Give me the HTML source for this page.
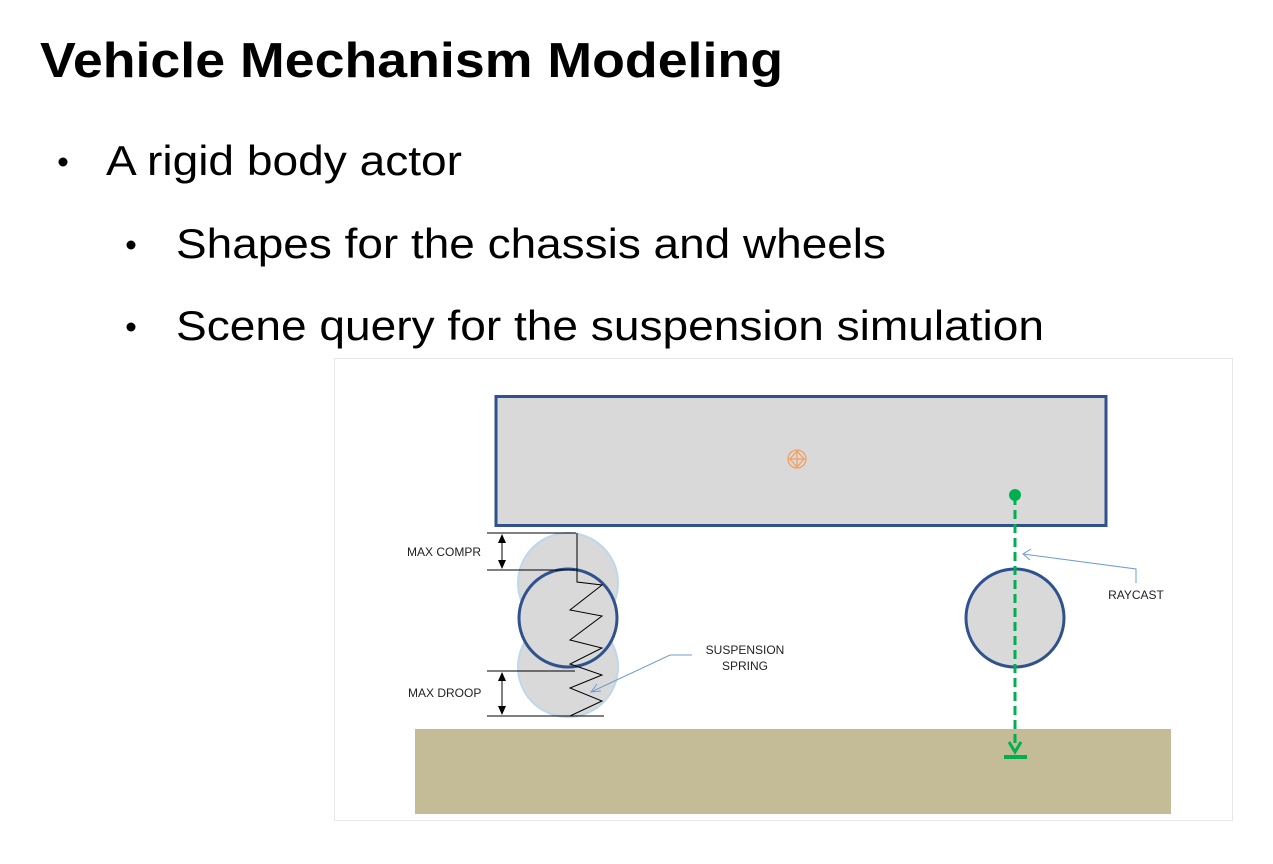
<!DOCTYPE html>
<html><head><meta charset="utf-8"><style>
html,body{margin:0;padding:0;background:#fff;}
svg{display:block;}
</style></head><body>
<svg width="1273" height="864" viewBox="0 0 1273 864" xmlns="http://www.w3.org/2000/svg" font-family="Liberation Sans, Arial, sans-serif">
<text x="40" y="77" font-size="49" font-weight="bold" textLength="743" lengthAdjust="spacingAndGlyphs">Vehicle Mechanism Modeling</text>
<circle cx="63" cy="162" r="4.5" fill="#000"/>
<text x="106" y="175" font-size="42" textLength="356" lengthAdjust="spacingAndGlyphs">A rigid body actor</text>
<circle cx="131" cy="245" r="4.5" fill="#000"/>
<text x="176" y="258" font-size="42" textLength="710" lengthAdjust="spacingAndGlyphs">Shapes for the chassis and wheels</text>
<circle cx="131" cy="327" r="4.5" fill="#000"/>
<text x="176" y="340" font-size="42" textLength="868" lengthAdjust="spacingAndGlyphs">Scene query for the suspension simulation</text>

<rect x="334.5" y="358.5" width="898" height="462" fill="#fff" stroke="#e6e6e6"/>
<rect x="415" y="729" width="756" height="85" fill="#c4bc97"/>
<rect x="496" y="396.5" width="610" height="129" fill="#d9d9d9" stroke="#2f528f" stroke-width="3"/>
<g fill="none" stroke="#f4a060" stroke-width="1.3">
<circle cx="797" cy="459" r="9"/><path d="M788,459 H806 M797,450 V468 M797,451 L790,459 L797,467 L804,459 Z"/>
</g>
<!-- left wheel -->
<circle cx="568" cy="583" r="50" fill="#d9d9d9" stroke="#bdd7ee" stroke-width="2"/>
<circle cx="568" cy="667" r="50" fill="#d9d9d9" stroke="#bdd7ee" stroke-width="2"/>
<circle cx="568" cy="618" r="49" fill="#d9d9d9" stroke="#2f528f" stroke-width="3"/>
<g stroke="#000" stroke-width="1" fill="none">
<path d="M487,533 H576 M487,570 H575 M487,671 H575 M487,716 H604"/>
<path d="M577,533 V582 L602,585 L570,610 L602,616 L570,640 L602,648 L570,664 L602,675 L570,688 L602,701 L570,716"/>
<line x1="502" y1="540" x2="502" y2="563"/>
<line x1="502" y1="678" x2="502" y2="709"/>
</g>
<path d="M502,534 L498,543 L506,543 Z M502,569 L498,560 L506,560 Z M502,672 L498,681 L506,681 Z M502,715 L498,706 L506,706 Z" fill="#000"/>
<text x="407" y="556" font-size="12" fill="#222">MAX COMPR</text>
<text x="408" y="697" font-size="12" fill="#222">MAX DROOP</text>
<text x="745" y="654" font-size="12" fill="#222" text-anchor="middle">SUSPENSION</text>
<text x="745" y="670" font-size="12" fill="#222" text-anchor="middle">SPRING</text>
<g stroke="#6f9bd0" stroke-width="1" fill="none">
<path d="M692,655 H670 L591,692"/>
<path d="M597,684 L591,692 L601,691"/>
<path d="M1136,583 V569 L1023,554"/>
<path d="M1031,549 L1023,554 L1030,560"/>
</g>
<text x="1136" y="599" font-size="12" fill="#222" text-anchor="middle">RAYCAST</text>
<!-- right wheel -->
<circle cx="1015" cy="618" r="49" fill="#d9d9d9" stroke="#2f528f" stroke-width="3"/>
<line x1="1015" y1="496" x2="1015" y2="748" stroke="#00b050" stroke-width="3" stroke-dasharray="9,5"/>
<circle cx="1015" cy="495" r="6" fill="#00b050"/>
<path d="M1009,742 L1015,752 L1021,742" fill="none" stroke="#00b050" stroke-width="3"/>
<rect x="1004" y="755" width="23" height="4" fill="#00b050"/>
</svg>
</body></html>
